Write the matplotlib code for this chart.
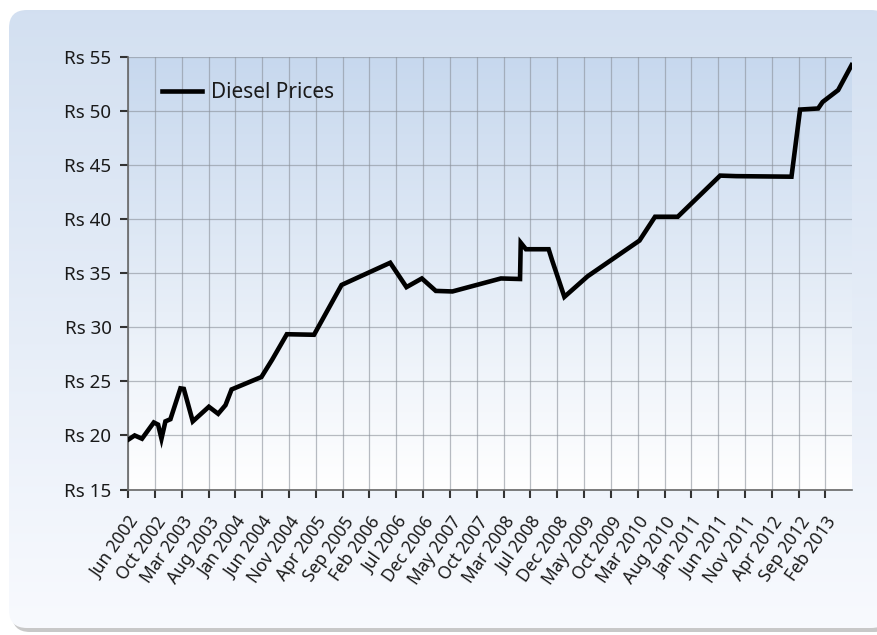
import numpy as np
import matplotlib
matplotlib.use('Agg')
import matplotlib.pyplot as plt
from matplotlib.patches import FancyBboxPatch
from matplotlib.ticker import FuncFormatter

# price revisions (date, Rs per litre)
dates = ['2002-06-01', '2002-07-08', '2002-08-18', '2002-10-23', '2002-11-16',
         '2002-12-05', '2002-12-27', '2003-01-24', '2003-03-21', '2003-04-09',
         '2003-05-29', '2003-08-27', '2003-10-18', '2003-11-28', '2004-01-01',
         '2004-06-16', '2004-08-15', '2004-11-05', '2005-04-06', '2005-09-07',
         '2006-06-06', '2006-09-05', '2006-11-30', '2007-02-16', '2007-05-20',
         '2008-02-15', '2008-06-01', '2008-06-05', '2008-07-04', '2008-11-08',
         '2008-11-27', '2009-02-04', '2009-06-14', '2010-03-31', '2010-06-26',
         '2010-10-31', '2011-06-25', '2011-09-23', '2012-07-28', '2012-09-14',
         '2012-12-24', '2013-01-18', '2013-04-15', '2013-06-29']
prices = [19.6, 20.0, 19.7, 21.2, 21.0,
          19.7, 21.3, 21.5, 24.35, 24.3,
          21.3, 22.65, 22.0, 22.8, 24.25,
          25.4, 27.0, 29.35, 29.3, 33.9,
          35.95, 33.7, 34.5, 33.35, 33.3,
          34.5, 34.45, 37.8, 37.2, 37.2,
          36.2, 32.8, 34.7, 38.0, 40.2,
          40.2, 44.0, 43.95, 43.9, 50.1,
          50.2, 50.8, 51.9, 54.2]
tick_labels = ['Jun 2002', 'Oct 2002', 'Mar 2003', 'Aug 2003', 'Jan 2004', 'Jun 2004',
               'Nov 2004', 'Apr 2005', 'Sep 2005', 'Feb 2006', 'Jul 2006', 'Dec 2006',
               'May 2007', 'Oct 2007', 'Mar 2008', 'Jul 2008', 'Dec 2008', 'May 2009',
               'Oct 2009', 'Mar 2010', 'Aug 2010', 'Jan 2011', 'Jun 2011', 'Nov 2011',
               'Apr 2012', 'Sep 2012', 'Feb 2013']
y_ticks = [15, 20, 25, 30, 35, 40, 45, 50, 55]

x = np.array(dates, dtype='datetime64[D]')
y = np.array(prices)

plt.rcParams['font.family'] = ['Noto Sans', 'DejaVu Sans']
fig = plt.figure(figsize=(8.77, 6.35), dpi=100)
fig.patch.set_facecolor('white')

# rounded gradient panel behind everything
bg = fig.add_axes([0, 0, 1, 1], zorder=-5)
bg.set_xlim(0, 877)
bg.set_ylim(635, 0)
bg.axis('off')
shadow = FancyBboxPatch((12, 14), 880, 618, boxstyle='round,pad=0,rounding_size=18',
                        fc='#c8c8c8', ec='none', transform=bg.transData)
bg.add_patch(shadow)
panel = FancyBboxPatch((9, 10), 880, 618, boxstyle='round,pad=0,rounding_size=18',
                       fc='none', ec='none', transform=bg.transData)
bg.add_patch(panel)
grad = np.linspace(0, 1, 256).reshape(-1, 1)
c_top = np.array([0.827, 0.878, 0.945])
c_bot = np.array([0.973, 0.980, 0.996])
img = c_top + (c_bot - c_top) * grad[..., None]
im = bg.imshow(img, extent=[9, 889, 628, 10], aspect='auto', zorder=1)
im.set_clip_path(panel)

ax = fig.add_axes([0.146, 0.229, 0.825, 0.682])
ax.set_facecolor('none')

# plot area gradient
a_top = np.array([0.78, 0.847, 0.933])
ax_img = a_top + (np.array([1.0, 1.0, 1.0]) - a_top) * grad[..., None]
ax.imshow(ax_img, extent=[0, 1, 0, 1], transform=ax.transAxes, aspect='auto', zorder=0)

ax.plot(x, y, color='black', lw=3.3, solid_joinstyle='miter', label='Diesel Prices', zorder=3)

tick_pos = x[0] + np.arange(len(tick_labels)) * np.timedelta64(150, 'D')
ax.set_xticks(tick_pos)
ax.set_xticklabels(tick_labels, rotation=55, ha='right', va='top',
                   rotation_mode='anchor', fontsize=12.5)
ax.set_xlim(x[0], x[-1])
ax.set_ylim(15, 55)
ax.set_yticks(y_ticks)
ax.yaxis.set_major_formatter(FuncFormatter(lambda v, p: f'Rs {v:.0f}'))
ax.tick_params(axis='y', labelsize=13.5, pad=6)
ax.tick_params(axis='x', pad=11)
ax.tick_params(direction='out', length=6, width=1.5, color='#333333', labelcolor='#1a1a1a')

ax.grid(True, color='#8a9099', lw=0.9, alpha=0.6, zorder=1)
ax.set_axisbelow(True)
for s in ['top', 'right']:
    ax.spines[s].set_visible(False)
for s in ['left', 'bottom']:
    ax.spines[s].set_color('#666666')
    ax.spines[s].set_linewidth(1.2)

leg = ax.legend(loc='center left', bbox_to_anchor=(0.047, 0.916), frameon=False,
                fontsize=15, handlelength=1.9, handletextpad=0.45, borderaxespad=0,
                borderpad=0)
for t in leg.get_texts():
    t.set_color('#1a1a1a')

fig.savefig('out.png', dpi=100)
